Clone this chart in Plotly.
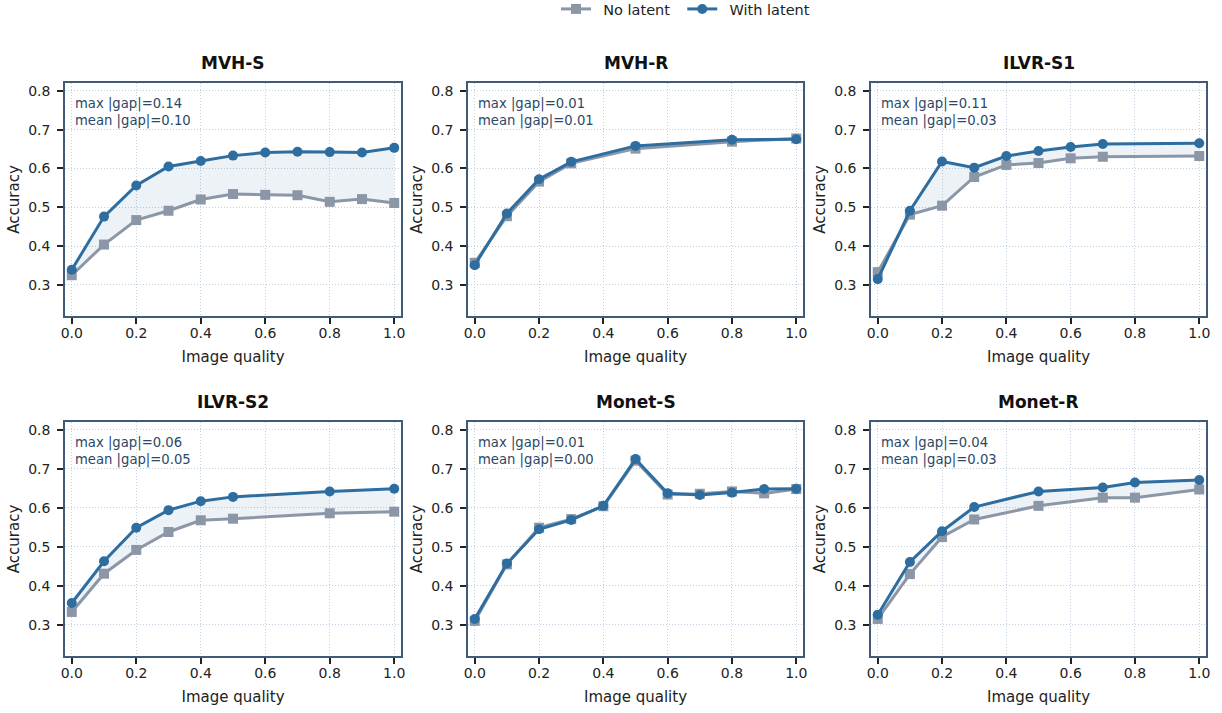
import plotly.graph_objects as go

# ---------------- data ----------------
titles = ["MVH-S", "MVH-R", "ILVR-S1", "ILVR-S2", "Monet-S", "Monet-R"]

x_mvh_s = [0.0, 0.1, 0.2, 0.3, 0.4, 0.5, 0.6, 0.7, 0.8, 0.9, 1.0]
no_mvh_s = [0.325, 0.404, 0.467, 0.491, 0.520, 0.534, 0.532, 0.531, 0.514, 0.521, 0.511]
with_mvh_s = [0.339, 0.476, 0.556, 0.605, 0.619, 0.633, 0.641, 0.643, 0.642, 0.641, 0.653]

x_mvh_r = [0.0, 0.1, 0.2, 0.3, 0.5, 0.8, 1.0]
no_mvh_r = [0.357, 0.477, 0.566, 0.613, 0.651, 0.669, 0.677]
with_mvh_r = [0.351, 0.484, 0.572, 0.617, 0.658, 0.674, 0.675]

x_ilvr_s1 = [0.0, 0.1, 0.2, 0.3, 0.4, 0.5, 0.6, 0.7, 1.0]
no_ilvr_s1 = [0.333, 0.481, 0.504, 0.578, 0.609, 0.614, 0.626, 0.630, 0.632]
with_ilvr_s1 = [0.315, 0.491, 0.618, 0.602, 0.632, 0.645, 0.655, 0.663, 0.665]

x_ilvr_s2 = [0.0, 0.1, 0.2, 0.3, 0.4, 0.5, 0.8, 1.0]
no_ilvr_s2 = [0.333, 0.431, 0.492, 0.538, 0.568, 0.572, 0.586, 0.590]
with_ilvr_s2 = [0.356, 0.463, 0.549, 0.594, 0.617, 0.628, 0.642, 0.649]

x_monet_s = [0.0, 0.1, 0.2, 0.3, 0.4, 0.5, 0.6, 0.7, 0.8, 0.9, 1.0]
no_monet_s = [0.310, 0.455, 0.549, 0.571, 0.604, 0.721, 0.634, 0.636, 0.642, 0.637, 0.648]
with_monet_s = [0.315, 0.457, 0.545, 0.569, 0.605, 0.725, 0.637, 0.633, 0.639, 0.648, 0.649]

x_monet_r = [0.0, 0.1, 0.2, 0.3, 0.5, 0.7, 0.8, 1.0]
no_monet_r = [0.315, 0.430, 0.525, 0.570, 0.605, 0.626, 0.626, 0.647]
with_monet_r = [0.326, 0.461, 0.540, 0.602, 0.642, 0.652, 0.665, 0.671]

gap_texts = [
    "max |gap|=0.14<br>mean |gap|=0.10",
    "max |gap|=0.01<br>mean |gap|=0.01",
    "max |gap|=0.11<br>mean |gap|=0.03",
    "max |gap|=0.06<br>mean |gap|=0.05",
    "max |gap|=0.01<br>mean |gap|=0.00",
    "max |gap|=0.04<br>mean |gap|=0.03",
]

x_ticks = [0.0, 0.2, 0.4, 0.6, 0.8, 1.0]
y_ticks = [0.3, 0.4, 0.5, 0.6, 0.7, 0.8]

panels = [
    (x_mvh_s, no_mvh_s, with_mvh_s),
    (x_mvh_r, no_mvh_r, with_mvh_r),
    (x_ilvr_s1, no_ilvr_s1, with_ilvr_s1),
    (x_ilvr_s2, no_ilvr_s2, with_ilvr_s2),
    (x_monet_s, no_monet_s, with_monet_s),
    (x_monet_r, no_monet_r, with_monet_r),
]

# ---------------- style ----------------
W, H = 1222, 713
C_WITH = "#2e6da0"
C_NO = "#8b97a7"
C_FILL = "rgba(46,109,160,0.09)"
C_FRAME = "#3f5b78"
C_TEXT = "#2c4866"
FONT = "DejaVu Sans"

col_px = [(65, 401), (468, 803), (871, 1206)]
row_px = [(83, 316), (422, 656)]

fig = go.Figure()
annotations = []

for i, (xs, no, wi) in enumerate(panels):
    r, c = divmod(i, 3)
    n = i + 1
    xa = "x" if n == 1 else f"x{n}"
    ya = "y" if n == 1 else f"y{n}"
    # fill between
    fig.add_trace(go.Scatter(
        x=list(xs) + list(xs)[::-1], y=list(wi) + list(no)[::-1],
        fill="toself", fillcolor=C_FILL, mode="none",
        showlegend=False, hoverinfo="skip", xaxis=xa, yaxis=ya))
    fig.add_trace(go.Scatter(
        x=xs, y=no, mode="lines+markers", name="\u2002No latent\u2002",
        line=dict(color=C_NO, width=3),
        marker=dict(symbol="square", size=10, color=C_NO),
        showlegend=(i == 0), legendrank=1, xaxis=xa, yaxis=ya))
    fig.add_trace(go.Scatter(
        x=xs, y=wi, mode="lines+markers", name="\u2002With latent",
        line=dict(color=C_WITH, width=3),
        marker=dict(symbol="circle", size=10, color=C_WITH),
        showlegend=(i == 0), legendrank=2, xaxis=xa, yaxis=ya))

    x0, x1 = col_px[c]
    y0, y1 = row_px[r]
    dom_x = [x0 / W, x1 / W]
    dom_y = [1 - y1 / H, 1 - y0 / H]
    axis_common = dict(
        showline=True, mirror=True, linecolor=C_FRAME, linewidth=1.6,
        ticks="outside", ticklen=6, tickwidth=1.5, tickcolor="#222222",
        showgrid=True, gridcolor="#bfd0e0", griddash="1px,2px", gridwidth=1,
        zeroline=False, automargin=False,
        tickfont=dict(family=FONT, size=14, color="#222222"),
    )
    fig.update_layout({
        ("xaxis" if n == 1 else f"xaxis{n}"): dict(
            domain=dom_x, anchor=ya, range=[-0.021, 1.021],
            tickvals=x_ticks, tickformat=".1f", ticklabelstandoff=-3,
            title=dict(text="Image quality", font=dict(family=FONT, size=15, color="#222222"), standoff=12),
            **axis_common),
        ("yaxis" if n == 1 else f"yaxis{n}"): dict(
            domain=dom_y, anchor=xa, range=[0.22, 0.82],
            tickvals=y_ticks, tickformat=".1f", ticklabelstandoff=4,
            title=dict(text="Accuracy", font=dict(family=FONT, size=15, color="#222222"), standoff=5),
            **axis_common),
    })
    annotations.append(dict(
        text=f"<b>{titles[i]}</b>", xref="paper", yref="paper",
        x=(dom_x[0] + dom_x[1]) / 2, y=dom_y[1] + 8 / H,
        xanchor="center", yanchor="bottom", showarrow=False,
        font=dict(family=FONT, size=17, color="#111111")))
    annotations.append(dict(
        text=gap_texts[i], xref=f"{xa} domain", yref=f"{ya} domain",
        x=0.025, y=0.953, xanchor="left", yanchor="top", align="left",
        showarrow=False,
        font=dict(family=FONT, size=13.2, color=C_TEXT)))

fig.update_layout(
    width=W, height=H,
    margin=dict(l=0, r=0, t=0, b=0, autoexpand=False),
    paper_bgcolor="white", plot_bgcolor="white",
    annotations=annotations,
    showlegend=True,
    legend=dict(orientation="h", x=0.455, y=1 - 9 / H, xanchor="left", yanchor="middle",
                font=dict(family=FONT, size=14.5, color="#222222"),
                bgcolor="rgba(0,0,0,0)", itemwidth=30),
)

fig.write_html("out.html", config={"displayModeBar": False},
               post_script="document.body.style.margin='0';document.body.style.overflow='hidden';")
